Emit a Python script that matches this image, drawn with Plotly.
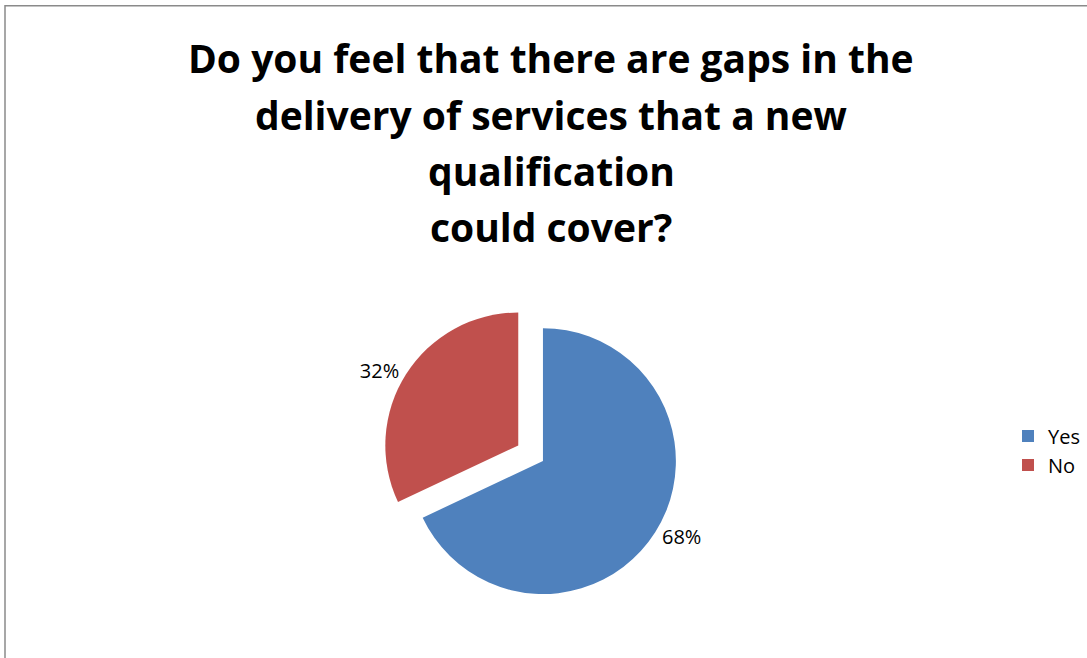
import plotly.graph_objects as go

labels = ["Yes", "No"]
values = [68, 32]
colors = ["#4F81BD", "#C0504D"]
title_lines = ["Do you feel that there are gaps in the",
               "delivery of services that a new",
               "qualification",
               "could cover?"]

W, H = 1087, 658
FONT = "Open Sans, Lato, sans-serif"

fig = go.Figure()
fig.add_trace(go.Pie(
    labels=labels, values=values, sort=False, direction="clockwise", rotation=0,
    marker=dict(colors=colors, line=dict(color="rgba(0,0,0,0)", width=0)),
    pull=[0, 0.22],
    textinfo="percent", textposition="outside",
    texttemplate="%{percent:.0%}",
    textfont=dict(family=FONT, size=20, color="#000"),
    domain=dict(x=[0.342, 0.657], y=[0.02, 0.53]),
    showlegend=True,
))

title_y = [60, 118, 176, 234]
for t, yy in zip(title_lines, title_y):
    fig.add_annotation(text=f"<b>{t}</b>", x=551 / W, y=1 - yy / H, xref="paper", yref="paper",
                       xanchor="center", yanchor="middle", showarrow=False,
                       font=dict(family=FONT, size=39, color="#000"))

fig.add_shape(type="rect", xref="paper", yref="paper",
              x0=5 / W, x1=1.2, y0=-0.2, y1=1 - 6 / H,
              line=dict(color="#8a8a8a", width=1.5))

fig.update_layout(
    width=W, height=H,
    margin=dict(l=0, r=0, t=0, b=0),
    paper_bgcolor="white", plot_bgcolor="white",
    legend=dict(x=1008 / W, y=1 - 466 / H, xanchor="left", yanchor="middle",
                font=dict(family=FONT, size=20, color="#000"),
                itemwidth=30, bgcolor="rgba(0,0,0,0)"),
)

fig.write_html("out.html")
